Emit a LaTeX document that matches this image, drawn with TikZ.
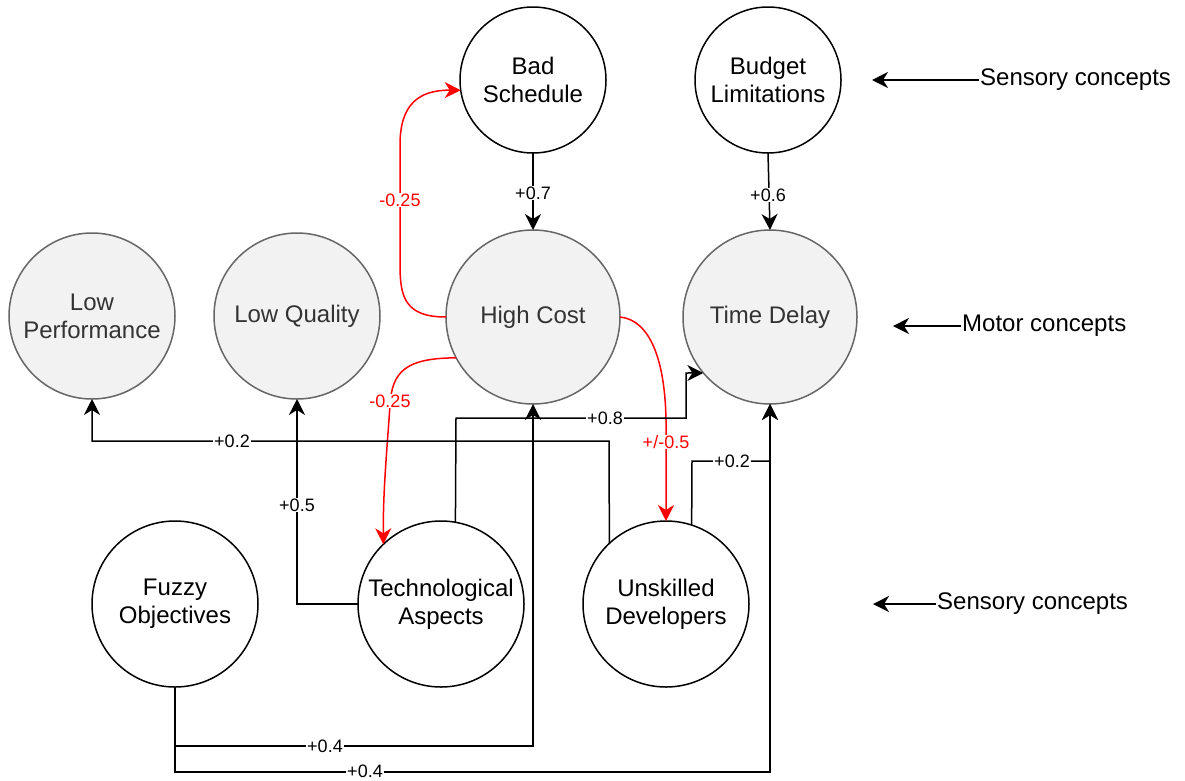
\documentclass[tikz,border=0pt]{standalone}
\usepackage{fontspec}
\setmainfont{Liberation Sans}
\usetikzlibrary{arrows.meta}
\definecolor{motorfill}{HTML}{F2F2F2}
\definecolor{motorline}{HTML}{666666}
\definecolor{motortext}{HTML}{333333}
\begin{document}
\begin{tikzpicture}[x=1pt, y=-1pt,
  concept/.style={circle, draw=black, fill=white, line width=1.5pt,
    inner sep=0pt, outer sep=0pt, align=center,
    font=\fontsize{24}{28}\selectfont},
  sensory/.style={concept, minimum size=166pt},
  motor/.style={concept, draw=motorline, fill=motorfill, text=motortext},
  link/.style={line width=1.5pt, -{Stealth[length=16pt, width=16pt, inset=5pt]}},
  neg/.style={link, draw=red},
  wt/.style={fill=white, inner sep=0.8pt, font=\fontsize{18}{20}\selectfont},
  negwt/.style={wt, text=red},
  legend/.style={anchor=west, inner sep=1pt, font=\fontsize{24}{28}\selectfont}]

\useasboundingbox (0,0) rectangle (1185,780);

% concepts
\node[sensory, minimum size=146pt] (bs) at (533,80)  {Bad\\Schedule};
\node[sensory, minimum size=146pt] (bl) at (768,80)  {Budget\\Limitations};
\node[motor, minimum size=166pt]   (lp) at (92,316)  {Low\\Performance};
\node[motor, minimum size=166pt]   (lq) at (297,316) {Low Quality};
\node[motor, minimum size=174pt]   (hc) at (533,317) {High Cost};
\node[motor, minimum size=174pt]   (td) at (770,317) {Time Delay};
\node[sensory] (fo) at (175,604) {Fuzzy\\Objectives};
\node[sensory] (ta) at (441,604) {Technological\\Aspects};
\node[sensory] (ud) at (666,604) {Unskilled\\Developers};

% negative (red) influences
\draw[neg] (hc.180) .. controls (405,317) and (400,297) .. (400,265)
  -- (400,145) .. controls (400,105) and (418,90) .. (bs.188);
\draw[neg] (hc.208) .. controls (405,358) and (392,372) .. (390,405)
  .. controls (387,450) and (383,490) .. (ta.134);
\draw[neg] (hc.0) .. controls (650,320) and (665,360) .. (666,420)
  -- (ud.north);

% positive influences
\draw[link] (bs.south) -- (hc.north);
\draw[link] (bl.south) -- (td.north);
\draw[link] (ta.80) -- (456,418) -- (686,418) -- (686,373) -- (td.220);
\draw[link] (ud.133) -- (609,441) -- (92,441) -- (lp.south);
\draw[link] (ta.west) -- (297,604) -- (lq.south);
\draw[link] (fo.south) -- (175,746) -- (533,746) -- (hc.south);
\draw[link] (fo.south) -- (175,772) -- (770,772) -- (td.south);
\draw[link] (ud.72) -- (692,461) -- (770,461) -- (td.south);

% weights
\node[wt] (w1) at (533,193) {+0.7};
\node[wt] (w2) at (768,195) {+0.6};
\node[wt] (w3) at (605,418) {+0.8};
\node[wt] (w4) at (232,441) {+0.2};
\node[wt] (w5) at (297,505) {+0.5};
\node[wt] (w6) at (325,746) {+0.4};
\node[wt] (w7) at (365,771) {+0.4};
\node[wt] (w8) at (732,461) {+0.2};
\node[negwt] (w9)  at (400,200) {-0.25};
\node[negwt] (w10) at (390,401) {-0.25};
\node[negwt] (w11) at (666,442) {+/-0.5};

% layer legend
\node[legend] (sc1) at (979,80)  {Sensory concepts};
\node[legend] (mc)  at (961,326) {Motor concepts};
\node[legend] (sc2) at (936,604) {Sensory concepts};
\coordinate (sc1t) at (872,80);
\coordinate (mct)  at (893,326);
\coordinate (sc2t) at (873,604);
\draw[link] (sc1) -- (sc1t);
\draw[link] (mc) -- (mct);
\draw[link] (sc2) -- (sc2t);
\end{tikzpicture}
\end{document}
